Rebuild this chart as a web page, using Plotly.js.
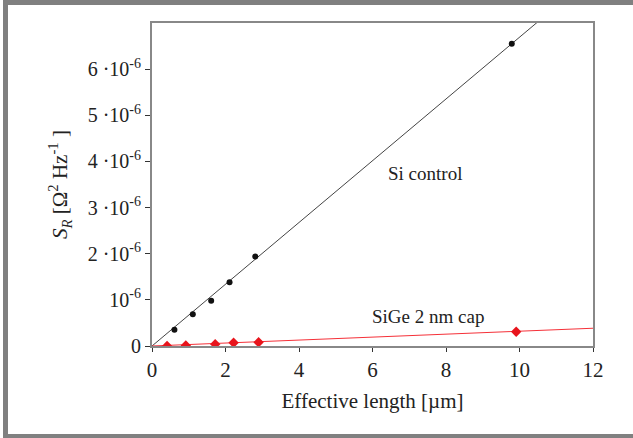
<!DOCTYPE html>
<html>
<head>
<meta charset="utf-8">
<script src="https://cdn.plot.ly/plotly-3.0.1.min.js"></script>
<style>
html,body{margin:0;padding:0;background:#fff;}
#wrap{position:relative;width:633px;height:438px;overflow:hidden;}
#chart{position:absolute;left:0;top:0;width:633px;height:438px;}
#frame{position:absolute;left:3px;top:0px;width:660px;height:429px;border-left:5px solid #808080;border-top:5px solid #808080;border-bottom:6px solid #808080;pointer-events:none;box-sizing:content-box;}
</style>
</head>
<body>
<div id="wrap"><div id="chart"></div><div id="frame"></div></div>
<script>
// Data (x in µm, y in Ω²/Hz)
const siLength = [0.61, 1.11, 1.61, 2.11, 2.81, 9.79];
const siSR = [0.35e-6, 0.69e-6, 0.98e-6, 1.38e-6, 1.94e-6, 6.55e-6];
const sigeLength = [0.41, 0.92, 1.72, 2.22, 2.90, 9.91];
const sigeSR = [0.00e-6, 0.01e-6, 0.04e-6, 0.07e-6, 0.08e-6, 0.31e-6];
// Linear fit lines (end points)
const siFitX = [0, 12];
const siFitY = [0, 8.03e-6];
const sigeFitX = [0, 12];
const sigeFitY = [0, 0.385e-6];
// Tick labels
const xTickVals = [0, 2, 4, 6, 8, 10, 12];
const yTickVals = [0, 1e-6, 2e-6, 3e-6, 4e-6, 5e-6, 6e-6];
const yTickText = ['0', '10<sup>-6</sup>', '2 ·10<sup>-6</sup>', '3 ·10<sup>-6</sup>', '4 ·10<sup>-6</sup>', '5 ·10<sup>-6</sup>', '6 ·10<sup>-6</sup>'];
const labels = [
  {text: 'Si control', x: 7.44, y: 3.74e-6},
  {text: 'SiGe 2 nm cap', x: 7.52, y: 0.65e-6}
];

const serif = 'Liberation Serif, Times New Roman, serif';

const traces = [
  {x: siFitX, y: siFitY, mode: 'lines', line: {color: '#444', width: 1}, hoverinfo: 'skip'},
  {x: sigeFitX, y: sigeFitY, mode: 'lines', line: {color: '#f53038', width: 1}, hoverinfo: 'skip'},
  {x: siLength, y: siSR, mode: 'markers', marker: {color: '#111', size: 6, symbol: 'circle'}},
  {x: sigeLength, y: sigeSR, mode: 'markers', marker: {color: '#e8141c', size: 8, symbol: 'diamond'}}
];

const layout = {
  width: 633, height: 438,
  margin: {l: 152, r: 40, t: 23, b: 92},
  paper_bgcolor: '#fff', plot_bgcolor: '#fff',
  showlegend: false,
  font: {family: serif, color: '#222', size: 19},
  xaxis: {
    range: [0, 12], tickvals: xTickVals, ticks: 'outside', ticklen: 4, tickcolor: '#333', tickwidth: 1,
    showgrid: false, zeroline: false, showline: true, linecolor: '#888', linewidth: 2, mirror: true,
    tickfont: {family: serif, size: 21, color: '#222'},
    title: {text: 'Effective length [µm]', font: {family: serif, size: 21, color: '#222'}, standoff: 12}
  },
  yaxis: {
    range: [0, 7e-6], tickvals: yTickVals, ticktext: yTickText, ticks: 'outside', ticklen: 5, tickcolor: '#333', tickwidth: 1,
    showgrid: false, zeroline: false, showline: true, linecolor: '#888', linewidth: 2, mirror: true,
    tickfont: {family: serif, size: 20, color: '#222'},
    title: {text: '<i>S<sub>R</sub></i> [Ω<sup>2</sup> Hz<sup>-1</sup> ]', font: {family: serif, size: 21, color: '#222'}, standoff: 14}
  },
  annotations: labels.map(l => ({text: l.text, x: l.x, y: l.y, xref: 'x', yref: 'y', showarrow: false, font: {family: serif, size: 19, color: '#222'}}))
};

Plotly.newPlot('chart', traces, layout, {displayModeBar: false, staticPlot: true});
</script>
</body>
</html>
